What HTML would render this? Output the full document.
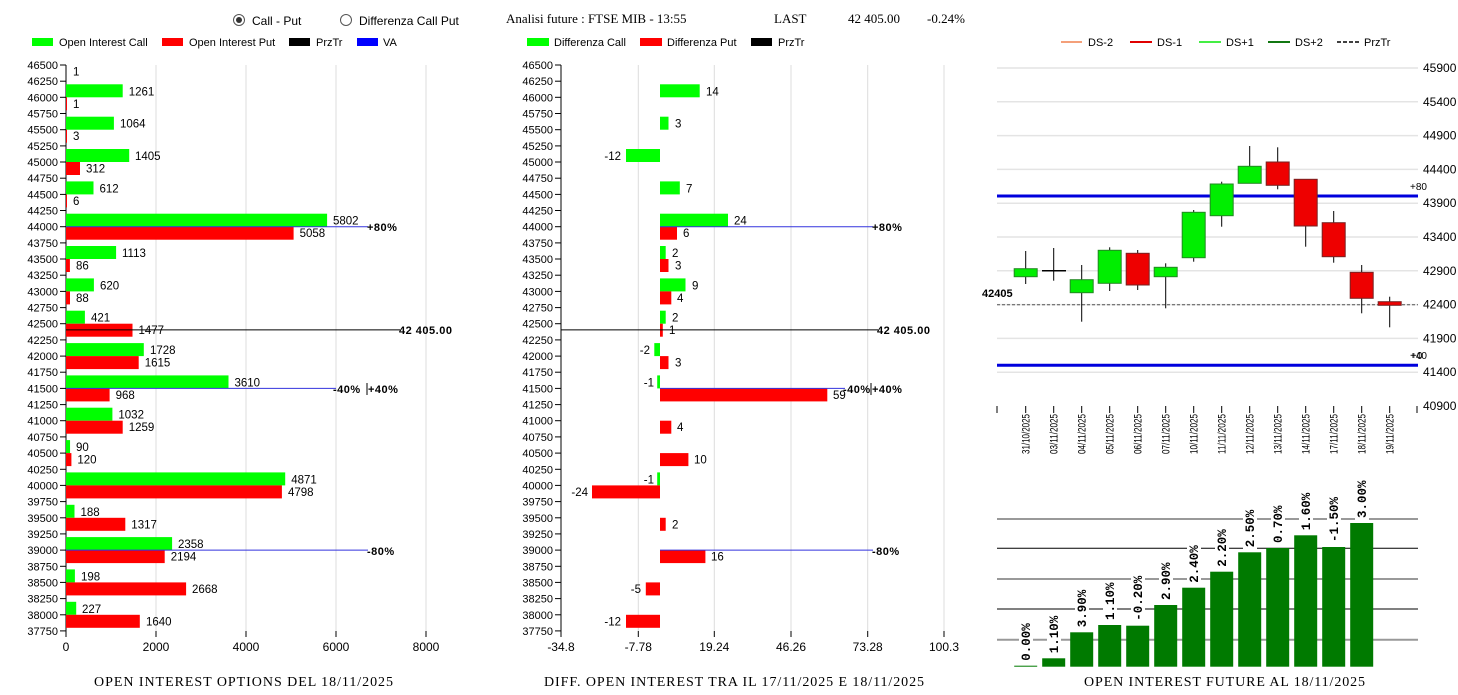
<!DOCTYPE html>
<html><head><meta charset="utf-8"><style>
html,body{margin:0;padding:0;background:#fff;}
svg{display:block;font-family:"Liberation Sans",Arial,sans-serif;}
.t{font-size:12px;fill:#000}
.y{font-size:11px;fill:#000}
.v{font-size:11.5px;fill:#000}
.s{font-size:11px;fill:#000}
.b{font-size:11px;font-weight:bold;fill:#000;letter-spacing:0.5px}
.ser{font-family:"Liberation Serif",serif;font-size:13px;fill:#000}
.ttl{font-family:"Liberation Serif",serif;font-size:14px;fill:#000}
.g{fill:#00ff00}.r{fill:#ff0000}
.gl{stroke:#dcdcdc;stroke-width:1}
.tk{stroke:#000;stroke-width:1}
.pl{font-family:"Liberation Mono",monospace;font-weight:bold;font-size:12.5px;fill:#000}
</style></head><body>
<svg width="1458" height="695" viewBox="0 0 1458 695" xmlns="http://www.w3.org/2000/svg">
<!-- header -->
<circle cx="239" cy="20" r="5.5" fill="#fff" stroke="#555"/><circle cx="239" cy="20" r="3" fill="#333"/>
<text x="252" y="25" class="t">Call - Put</text>
<circle cx="346" cy="20" r="5.5" fill="#fff" stroke="#555"/>
<text x="359" y="25" class="t">Differenza Call Put</text>
<text x="506" y="23" class="ser">Analisi future : FTSE MIB - 13:55</text>
<text x="774" y="23" class="ser">LAST</text>
<text x="848" y="23" class="ser">42 405.00</text>
<text x="927" y="23" class="ser">-0.24%</text>
<!-- legends -->
<rect x="32" y="38" width="21" height="8" class="g"/><text x="59" y="46" class="s">Open Interest Call</text>
<rect x="162" y="38" width="21" height="8" class="r"/><text x="189" y="46" class="s">Open Interest Put</text>
<rect x="289" y="38" width="21" height="8" fill="#000"/><text x="316" y="46" class="s">PrzTr</text>
<rect x="357" y="38" width="21" height="8" fill="#0000ff"/><text x="383" y="46" class="s">VA</text>
<rect x="527" y="38" width="22" height="8" class="g"/><text x="554" y="46" class="s">Differenza Call</text>
<rect x="640" y="38" width="22" height="8" class="r"/><text x="667" y="46" class="s">Differenza Put</text>
<rect x="751" y="38" width="21" height="8" fill="#000"/><text x="778" y="46" class="s">PrzTr</text>
<line x1="1061" y1="42" x2="1082" y2="42" stroke="#f4a07a" stroke-width="2"/><text x="1088" y="46" class="s">DS-2</text>
<line x1="1130" y1="42" x2="1152" y2="42" stroke="#e00000" stroke-width="2"/><text x="1157" y="46" class="s">DS-1</text>
<line x1="1199" y1="42" x2="1221" y2="42" stroke="#44ee44" stroke-width="2"/><text x="1226" y="46" class="s">DS+1</text>
<line x1="1268" y1="42" x2="1290" y2="42" stroke="#117711" stroke-width="2"/><text x="1295" y="46" class="s">DS+2</text>
<line x1="1337" y1="42" x2="1359" y2="42" stroke="#000" stroke-width="1.5" stroke-dasharray="4,2"/><text x="1364" y="46" class="s">PrzTr</text>

<!-- LEFT CHART -->
<g class="gl"><line x1="156" y1="65" x2="156" y2="631"/><line x1="246" y1="65" x2="246" y2="631"/><line x1="336" y1="65" x2="336" y2="631"/><line x1="426" y1="65" x2="426" y2="631"/></g>
<line x1="66" y1="65" x2="66" y2="631" class="tk"/>
<g class="tk">
<line x1="60" y1="65" x2="66" y2="65"/><line x1="60" y1="81.2" x2="66" y2="81.2"/><line x1="60" y1="97.3" x2="66" y2="97.3"/><line x1="60" y1="113.5" x2="66" y2="113.5"/><line x1="60" y1="129.7" x2="66" y2="129.7"/><line x1="60" y1="145.9" x2="66" y2="145.9"/><line x1="60" y1="162" x2="66" y2="162"/><line x1="60" y1="178.2" x2="66" y2="178.2"/><line x1="60" y1="194.4" x2="66" y2="194.4"/><line x1="60" y1="210.5" x2="66" y2="210.5"/><line x1="60" y1="226.7" x2="66" y2="226.7"/><line x1="60" y1="242.9" x2="66" y2="242.9"/><line x1="60" y1="259" x2="66" y2="259"/><line x1="60" y1="275.2" x2="66" y2="275.2"/><line x1="60" y1="291.4" x2="66" y2="291.4"/><line x1="60" y1="307.6" x2="66" y2="307.6"/><line x1="60" y1="323.7" x2="66" y2="323.7"/><line x1="60" y1="339.9" x2="66" y2="339.9"/><line x1="60" y1="356.1" x2="66" y2="356.1"/><line x1="60" y1="372.2" x2="66" y2="372.2"/><line x1="60" y1="388.4" x2="66" y2="388.4"/><line x1="60" y1="404.6" x2="66" y2="404.6"/><line x1="60" y1="420.7" x2="66" y2="420.7"/><line x1="60" y1="436.9" x2="66" y2="436.9"/><line x1="60" y1="453.1" x2="66" y2="453.1"/><line x1="60" y1="469.3" x2="66" y2="469.3"/><line x1="60" y1="485.4" x2="66" y2="485.4"/><line x1="60" y1="501.6" x2="66" y2="501.6"/><line x1="60" y1="517.8" x2="66" y2="517.8"/><line x1="60" y1="533.9" x2="66" y2="533.9"/><line x1="60" y1="550.1" x2="66" y2="550.1"/><line x1="60" y1="566.3" x2="66" y2="566.3"/><line x1="60" y1="582.4" x2="66" y2="582.4"/><line x1="60" y1="598.6" x2="66" y2="598.6"/><line x1="60" y1="614.8" x2="66" y2="614.8"/><line x1="60" y1="630.9" x2="66" y2="630.9"/>
<line x1="66" y1="631" x2="66" y2="637"/><line x1="156" y1="631" x2="156" y2="637"/><line x1="246" y1="631" x2="246" y2="637"/><line x1="336" y1="631" x2="336" y2="637"/><line x1="426" y1="631" x2="426" y2="637"/>
</g>
<g class="y" text-anchor="end">
<text x="58" y="69">46500</text><text x="58" y="85.2">46250</text><text x="58" y="101.3">46000</text><text x="58" y="117.5">45750</text><text x="58" y="133.7">45500</text><text x="58" y="149.9">45250</text><text x="58" y="166">45000</text><text x="58" y="182.2">44750</text><text x="58" y="198.4">44500</text><text x="58" y="214.5">44250</text><text x="58" y="230.7">44000</text><text x="58" y="246.9">43750</text><text x="58" y="263">43500</text><text x="58" y="279.2">43250</text><text x="58" y="295.4">43000</text><text x="58" y="311.6">42750</text><text x="58" y="327.7">42500</text><text x="58" y="343.9">42250</text><text x="58" y="360.1">42000</text><text x="58" y="376.2">41750</text><text x="58" y="392.4">41500</text><text x="58" y="408.6">41250</text><text x="58" y="424.7">41000</text><text x="58" y="440.9">40750</text><text x="58" y="457.1">40500</text><text x="58" y="473.3">40250</text><text x="58" y="489.4">40000</text><text x="58" y="505.6">39750</text><text x="58" y="521.8">39500</text><text x="58" y="537.9">39250</text><text x="58" y="554.1">39000</text><text x="58" y="570.3">38750</text><text x="58" y="586.4">38500</text><text x="58" y="602.6">38250</text><text x="58" y="618.8">38000</text><text x="58" y="634.9">37750</text>
</g>
<g class="t" text-anchor="middle"><text x="66" y="651">0</text><text x="156" y="651">2000</text><text x="246" y="651">4000</text><text x="336" y="651">6000</text><text x="426" y="651">8000</text></g>
<g class="g">
<rect x="66" y="84.3" width="56.7" height="13"/><rect x="66" y="116.7" width="47.9" height="13"/><rect x="66" y="149" width="63.2" height="13"/><rect x="66" y="181.4" width="27.5" height="13"/><rect x="66" y="213.7" width="261.1" height="13"/><rect x="66" y="246" width="50.1" height="13"/><rect x="66" y="278.4" width="27.9" height="13"/><rect x="66" y="310.7" width="18.9" height="13"/><rect x="66" y="343.1" width="77.8" height="13"/><rect x="66" y="375.4" width="162.5" height="13"/><rect x="66" y="407.7" width="46.4" height="13"/><rect x="66" y="440.1" width="4.05" height="13"/><rect x="66" y="472.4" width="219.2" height="13"/><rect x="66" y="504.8" width="8.5" height="13"/><rect x="66" y="537.1" width="106.1" height="13"/><rect x="66" y="569.4" width="8.9" height="13"/><rect x="66" y="601.8" width="10.2" height="13"/>
</g>
<g class="r">
<rect x="66" y="97.3" width="1" height="13"/><rect x="66" y="129.7" width="1" height="13"/><rect x="66" y="162" width="14" height="13"/><rect x="66" y="194.4" width="1" height="13"/><rect x="66" y="226.7" width="227.6" height="13"/><rect x="66" y="259" width="3.9" height="13"/><rect x="66" y="291.4" width="4" height="13"/><rect x="66" y="323.7" width="66.5" height="13"/><rect x="66" y="356.1" width="72.7" height="13"/><rect x="66" y="388.4" width="43.6" height="13"/><rect x="66" y="420.7" width="56.7" height="13"/><rect x="66" y="453.1" width="5.4" height="13"/><rect x="66" y="485.4" width="215.9" height="13"/><rect x="66" y="517.8" width="59.3" height="13"/><rect x="66" y="550.1" width="98.7" height="13"/><rect x="66" y="582.4" width="120.1" height="13"/><rect x="66" y="614.8" width="73.8" height="13"/>
</g>
<g class="v">
<text x="73" y="75.5">1</text>
<text x="128.7" y="95.3">1261</text><text x="73" y="107.8">1</text>
<text x="120" y="127.7">1064</text><text x="73" y="140.2">3</text>
<text x="135" y="160">1405</text><text x="86" y="172.5">312</text>
<text x="99.5" y="192.4">612</text><text x="73" y="204.9">6</text>
<text x="333" y="224.7">5802</text><text x="299.6" y="237.2">5058</text>
<text x="122" y="257">1113</text><text x="76" y="269.5">86</text>
<text x="100" y="289.4">620</text><text x="76" y="301.9">88</text>
<text x="91" y="321.7">421</text><text x="138.5" y="334.2">1477</text>
<text x="150" y="354.1">1728</text><text x="144.7" y="366.6">1615</text>
<text x="234.5" y="386.4">3610</text><text x="115.6" y="398.9">968</text>
<text x="118.4" y="418.7">1032</text><text x="128.7" y="431.2">1259</text>
<text x="76" y="451.1">90</text><text x="77.4" y="463.6">120</text>
<text x="291.2" y="483.4">4871</text><text x="288" y="495.9">4798</text>
<text x="80.5" y="515.8">188</text><text x="131.3" y="528.3">1317</text>
<text x="178" y="548.1">2358</text><text x="170.7" y="560.6">2194</text>
<text x="81" y="580.4">198</text><text x="192" y="592.9">2668</text>
<text x="82" y="612.8">227</text><text x="146" y="625.3">1640</text>
</g>
<line x1="66" y1="226.7" x2="368" y2="226.7" stroke="#3333dd"/><text x="367" y="231" class="b">+80%</text>
<line x1="66" y1="329.9" x2="400" y2="329.9" stroke="#000"/><text x="399" y="334" class="b">42 405.00</text>
<line x1="66" y1="388.4" x2="336" y2="388.4" stroke="#3333dd"/><text x="333" y="393" class="b">-40%</text><line x1="367" y1="383" x2="367" y2="395" stroke="#000"/><text x="368" y="393" class="b">+40%</text>
<line x1="66" y1="550.1" x2="368" y2="550.1" stroke="#3333dd"/><text x="367" y="555" class="b">-80%</text>
<text x="94" y="686" class="ttl" textLength="299" lengthAdjust="spacing">OPEN INTEREST OPTIONS DEL 18/11/2025</text>

<!-- MIDDLE CHART -->
<g class="gl"><line x1="638.3" y1="65" x2="638.3" y2="631"/><line x1="714.3" y1="65" x2="714.3" y2="631"/><line x1="791" y1="65" x2="791" y2="631"/><line x1="867.7" y1="65" x2="867.7" y2="631"/><line x1="944" y1="65" x2="944" y2="631"/></g>
<line x1="561" y1="65" x2="561" y2="631" class="tk"/>
<g class="tk">
<line x1="555" y1="65" x2="561" y2="65"/><line x1="555" y1="81.2" x2="561" y2="81.2"/><line x1="555" y1="97.3" x2="561" y2="97.3"/><line x1="555" y1="113.5" x2="561" y2="113.5"/><line x1="555" y1="129.7" x2="561" y2="129.7"/><line x1="555" y1="145.9" x2="561" y2="145.9"/><line x1="555" y1="162" x2="561" y2="162"/><line x1="555" y1="178.2" x2="561" y2="178.2"/><line x1="555" y1="194.4" x2="561" y2="194.4"/><line x1="555" y1="210.5" x2="561" y2="210.5"/><line x1="555" y1="226.7" x2="561" y2="226.7"/><line x1="555" y1="242.9" x2="561" y2="242.9"/><line x1="555" y1="259" x2="561" y2="259"/><line x1="555" y1="275.2" x2="561" y2="275.2"/><line x1="555" y1="291.4" x2="561" y2="291.4"/><line x1="555" y1="307.6" x2="561" y2="307.6"/><line x1="555" y1="323.7" x2="561" y2="323.7"/><line x1="555" y1="339.9" x2="561" y2="339.9"/><line x1="555" y1="356.1" x2="561" y2="356.1"/><line x1="555" y1="372.2" x2="561" y2="372.2"/><line x1="555" y1="388.4" x2="561" y2="388.4"/><line x1="555" y1="404.6" x2="561" y2="404.6"/><line x1="555" y1="420.7" x2="561" y2="420.7"/><line x1="555" y1="436.9" x2="561" y2="436.9"/><line x1="555" y1="453.1" x2="561" y2="453.1"/><line x1="555" y1="469.3" x2="561" y2="469.3"/><line x1="555" y1="485.4" x2="561" y2="485.4"/><line x1="555" y1="501.6" x2="561" y2="501.6"/><line x1="555" y1="517.8" x2="561" y2="517.8"/><line x1="555" y1="533.9" x2="561" y2="533.9"/><line x1="555" y1="550.1" x2="561" y2="550.1"/><line x1="555" y1="566.3" x2="561" y2="566.3"/><line x1="555" y1="582.4" x2="561" y2="582.4"/><line x1="555" y1="598.6" x2="561" y2="598.6"/><line x1="555" y1="614.8" x2="561" y2="614.8"/><line x1="555" y1="630.9" x2="561" y2="630.9"/>
<line x1="561" y1="631" x2="561" y2="637"/><line x1="638.3" y1="631" x2="638.3" y2="637"/><line x1="714.3" y1="631" x2="714.3" y2="637"/><line x1="791" y1="631" x2="791" y2="637"/><line x1="867.7" y1="631" x2="867.7" y2="637"/><line x1="944" y1="631" x2="944" y2="637"/>
</g>
<g class="y" text-anchor="end">
<text x="553" y="69">46500</text><text x="553" y="85.2">46250</text><text x="553" y="101.3">46000</text><text x="553" y="117.5">45750</text><text x="553" y="133.7">45500</text><text x="553" y="149.9">45250</text><text x="553" y="166">45000</text><text x="553" y="182.2">44750</text><text x="553" y="198.4">44500</text><text x="553" y="214.5">44250</text><text x="553" y="230.7">44000</text><text x="553" y="246.9">43750</text><text x="553" y="263">43500</text><text x="553" y="279.2">43250</text><text x="553" y="295.4">43000</text><text x="553" y="311.6">42750</text><text x="553" y="327.7">42500</text><text x="553" y="343.9">42250</text><text x="553" y="360.1">42000</text><text x="553" y="376.2">41750</text><text x="553" y="392.4">41500</text><text x="553" y="408.6">41250</text><text x="553" y="424.7">41000</text><text x="553" y="440.9">40750</text><text x="553" y="457.1">40500</text><text x="553" y="473.3">40250</text><text x="553" y="489.4">40000</text><text x="553" y="505.6">39750</text><text x="553" y="521.8">39500</text><text x="553" y="537.9">39250</text><text x="553" y="554.1">39000</text><text x="553" y="570.3">38750</text><text x="553" y="586.4">38500</text><text x="553" y="602.6">38250</text><text x="553" y="618.8">38000</text><text x="553" y="634.9">37750</text>
</g>
<g class="t" text-anchor="middle"><text x="561" y="651">-34.8</text><text x="638.3" y="651">-7.78</text><text x="714.3" y="651">19.24</text><text x="791" y="651">46.26</text><text x="867.7" y="651">73.28</text><text x="944" y="651">100.3</text></g>
<g class="g">
<rect x="660" y="84.3" width="39.7" height="13"/><rect x="660" y="116.7" width="8.5" height="13"/><rect x="626" y="149" width="34" height="13"/><rect x="660" y="181.4" width="19.8" height="13"/><rect x="660" y="213.7" width="68" height="13"/><rect x="660" y="246" width="5.7" height="13"/><rect x="660" y="278.4" width="25.5" height="13"/><rect x="660" y="310.7" width="5.7" height="13"/><rect x="654.3" y="343.1" width="5.7" height="13"/><rect x="657.2" y="375.4" width="2.8" height="13"/><rect x="657.2" y="472.4" width="2.8" height="13"/>
</g>
<g class="r">
<rect x="660" y="226.7" width="17" height="13"/><rect x="660" y="259" width="8.5" height="13"/><rect x="660" y="291.4" width="11.3" height="13"/><rect x="660" y="323.7" width="2.8" height="13"/><rect x="660" y="356.1" width="8.5" height="13"/><rect x="660" y="388.4" width="167.3" height="13"/><rect x="660" y="420.7" width="11.3" height="13"/><rect x="660" y="453.1" width="28.4" height="13"/><rect x="592" y="485.4" width="68" height="13"/><rect x="660" y="517.8" width="5.7" height="13"/><rect x="660" y="550.1" width="45.4" height="13"/><rect x="645.8" y="582.4" width="14.2" height="13"/><rect x="626" y="614.8" width="34" height="13"/>
</g>
<g class="v">
<text x="706" y="95.3">14</text><text x="675" y="127.7">3</text><text x="686" y="192.4">7</text>
<text x="734" y="224.7">24</text><text x="683" y="237.2">6</text>
<text x="672" y="257">2</text><text x="675" y="269.5">3</text>
<text x="692" y="289.4">9</text><text x="677" y="301.9">4</text>
<text x="672" y="321.7">2</text><text x="669" y="334.2">1</text>
<text x="675" y="366.6">3</text><text x="833" y="398.9">59</text>
<text x="677" y="431.2">4</text><text x="694" y="463.6">10</text>
<text x="672" y="528.3">2</text><text x="711" y="560.6">16</text>
</g>
<g class="v" text-anchor="end">
<text x="621" y="160">-12</text><text x="650" y="354.1">-2</text><text x="654" y="386.4">-1</text><text x="654" y="483.4">-1</text><text x="588" y="495.9">-24</text><text x="641" y="592.9">-5</text><text x="621" y="625.3">-12</text>
</g>
<line x1="660" y1="226.7" x2="873" y2="226.7" stroke="#3333dd"/><text x="872" y="231" class="b">+80%</text>
<line x1="561" y1="329.9" x2="878" y2="329.9" stroke="#000"/><text x="877" y="334" class="b">42 405.00</text>
<line x1="660" y1="388.4" x2="845" y2="388.4" stroke="#3333dd"/><text x="843" y="393" class="b">-40%</text><line x1="871" y1="383" x2="871" y2="395" stroke="#000"/><text x="872" y="393" class="b">+40%</text>
<line x1="660" y1="550.1" x2="873" y2="550.1" stroke="#3333dd"/><text x="872" y="555" class="b">-80%</text>
<text x="544" y="686" class="ttl" textLength="380" lengthAdjust="spacing">DIFF. OPEN INTEREST TRA IL 17/11/2025 E 18/11/2025</text>

<!-- RIGHT CANDLE CHART -->
<g stroke="#e4e4e4" stroke-width="1.5">
<line x1="997" y1="68" x2="1418" y2="68"/><line x1="997" y1="101.8" x2="1418" y2="101.8"/><line x1="997" y1="135.6" x2="1418" y2="135.6"/><line x1="997" y1="169.4" x2="1418" y2="169.4"/><line x1="997" y1="203.2" x2="1418" y2="203.2"/><line x1="997" y1="237" x2="1418" y2="237"/><line x1="997" y1="270.8" x2="1418" y2="270.8"/><line x1="997" y1="304.6" x2="1418" y2="304.6"/><line x1="997" y1="338.4" x2="1418" y2="338.4"/><line x1="997" y1="372.2" x2="1418" y2="372.2"/>
</g>
<g class="t">
<text x="1423" y="72">45900</text><text x="1423" y="105.8">45400</text><text x="1423" y="139.6">44900</text><text x="1423" y="173.4">44400</text><text x="1423" y="207.2">43900</text><text x="1423" y="241">43400</text><text x="1423" y="274.8">42900</text><text x="1423" y="308.6">42400</text><text x="1423" y="342.4">41900</text><text x="1423" y="376.2">41400</text><text x="1423" y="410">40900</text>
</g>
<line x1="997" y1="304.7" x2="1418" y2="304.7" stroke="#555" stroke-dasharray="3,2"/>
<line x1="997" y1="196" x2="1418" y2="196" stroke="#0000dd" stroke-width="3"/>
<line x1="997" y1="365.3" x2="1418" y2="365.3" stroke="#0000dd" stroke-width="3"/>
<text x="1410" y="190" style="font-size:10px">+80</text>
<text x="1410" y="359" style="font-size:10px">+40</text><text x="1411" y="359" style="font-size:10px">+0</text>
<text x="982" y="297" class="s" style="font-weight:bold">42405</text>
<g stroke="#000" stroke-width="1">
<line x1="1025.7" y1="251" x2="1025.7" y2="284"/><line x1="1053.7" y1="248" x2="1053.7" y2="280.7"/><line x1="1081.7" y1="265" x2="1081.7" y2="321.7"/><line x1="1109.7" y1="247.3" x2="1109.7" y2="291"/><line x1="1137.7" y1="250" x2="1137.7" y2="290"/><line x1="1165.7" y1="263.3" x2="1165.7" y2="308.3"/><line x1="1193.7" y1="210" x2="1193.7" y2="261.7"/><line x1="1221.7" y1="181.7" x2="1221.7" y2="226.7"/><line x1="1249.7" y1="146" x2="1249.7" y2="183.3"/><line x1="1277.7" y1="147.3" x2="1277.7" y2="189.3"/><line x1="1305.7" y1="179.3" x2="1305.7" y2="246.7"/><line x1="1333.7" y1="211" x2="1333.7" y2="262.7"/><line x1="1361.7" y1="265" x2="1361.7" y2="313.3"/><line x1="1389.7" y1="296.7" x2="1389.7" y2="327.3"/>
</g>
<g fill="#00ee00" stroke="#228822">
<rect x="1014.2" y="268.7" width="23" height="8"/><rect x="1070.2" y="279.7" width="23" height="13"/><rect x="1098.2" y="250.3" width="23" height="33"/><rect x="1154.2" y="267.3" width="23" height="9.4"/><rect x="1182.2" y="212.3" width="23" height="45.4"/><rect x="1210.2" y="184" width="23" height="31.7"/><rect x="1238.2" y="166.3" width="23" height="17"/>
</g>
<line x1="1042" y1="270.7" x2="1066" y2="270.7" stroke="#000" stroke-width="1.5"/>
<g fill="#ee0000" stroke="#772222">
<rect x="1126.2" y="253.3" width="23" height="31.7"/><rect x="1266.2" y="162" width="23" height="23.3"/><rect x="1294.2" y="179.3" width="23" height="46.7"/><rect x="1322.2" y="222.7" width="23" height="34"/><rect x="1350.2" y="272.3" width="23" height="26"/><rect x="1378.2" y="301.7" width="23" height="3.6"/>
</g>
<g class="tk">
<line x1="997" y1="406" x2="997" y2="413"/><line x1="1417" y1="406" x2="1417" y2="413"/>
<line x1="1025.7" y1="406" x2="1025.7" y2="413"/><line x1="1053.7" y1="406" x2="1053.7" y2="413"/><line x1="1081.7" y1="406" x2="1081.7" y2="413"/><line x1="1109.7" y1="406" x2="1109.7" y2="413"/><line x1="1137.7" y1="406" x2="1137.7" y2="413"/><line x1="1165.7" y1="406" x2="1165.7" y2="413"/><line x1="1193.7" y1="406" x2="1193.7" y2="413"/><line x1="1221.7" y1="406" x2="1221.7" y2="413"/><line x1="1249.7" y1="406" x2="1249.7" y2="413"/><line x1="1277.7" y1="406" x2="1277.7" y2="413"/><line x1="1305.7" y1="406" x2="1305.7" y2="413"/><line x1="1333.7" y1="406" x2="1333.7" y2="413"/><line x1="1361.7" y1="406" x2="1361.7" y2="413"/><line x1="1389.7" y1="406" x2="1389.7" y2="413"/>
</g>
<g style="font-size:11px" fill="#000">
<text transform="translate(1029.7,454) rotate(-90)" textLength="40" lengthAdjust="spacingAndGlyphs">31/10/2025</text>
<text transform="translate(1057.7,454) rotate(-90)" textLength="40" lengthAdjust="spacingAndGlyphs">03/11/2025</text>
<text transform="translate(1085.7,454) rotate(-90)" textLength="40" lengthAdjust="spacingAndGlyphs">04/11/2025</text>
<text transform="translate(1113.7,454) rotate(-90)" textLength="40" lengthAdjust="spacingAndGlyphs">05/11/2025</text>
<text transform="translate(1141.7,454) rotate(-90)" textLength="40" lengthAdjust="spacingAndGlyphs">06/11/2025</text>
<text transform="translate(1169.7,454) rotate(-90)" textLength="40" lengthAdjust="spacingAndGlyphs">07/11/2025</text>
<text transform="translate(1197.7,454) rotate(-90)" textLength="40" lengthAdjust="spacingAndGlyphs">10/11/2025</text>
<text transform="translate(1225.7,454) rotate(-90)" textLength="40" lengthAdjust="spacingAndGlyphs">11/11/2025</text>
<text transform="translate(1253.7,454) rotate(-90)" textLength="40" lengthAdjust="spacingAndGlyphs">12/11/2025</text>
<text transform="translate(1281.7,454) rotate(-90)" textLength="40" lengthAdjust="spacingAndGlyphs">13/11/2025</text>
<text transform="translate(1309.7,454) rotate(-90)" textLength="40" lengthAdjust="spacingAndGlyphs">14/11/2025</text>
<text transform="translate(1337.7,454) rotate(-90)" textLength="40" lengthAdjust="spacingAndGlyphs">17/11/2025</text>
<text transform="translate(1365.7,454) rotate(-90)" textLength="40" lengthAdjust="spacingAndGlyphs">18/11/2025</text>
<text transform="translate(1393.7,454) rotate(-90)" textLength="40" lengthAdjust="spacingAndGlyphs">19/11/2025</text>
</g>

<!-- BOTTOM BAR CHART -->
<line x1="997" y1="519" x2="1418" y2="519" stroke="#999" stroke-width="2"/>
<line x1="997" y1="548.3" x2="1418" y2="548.3" stroke="#000" stroke-width="1"/>
<line x1="997" y1="579" x2="1418" y2="579" stroke="#999" stroke-width="2"/>
<line x1="997" y1="609" x2="1418" y2="609" stroke="#000" stroke-width="1"/>
<line x1="997" y1="639.7" x2="1418" y2="639.7" stroke="#999" stroke-width="2"/>
<g fill="#007a00">
<rect x="1014.2" y="665.7" width="23" height="1"/><rect x="1042.2" y="658.3" width="23" height="8.4"/><rect x="1070.2" y="632.3" width="23" height="34.4"/><rect x="1098.2" y="625" width="23" height="41.7"/><rect x="1126.2" y="625.7" width="23" height="41"/><rect x="1154.2" y="605" width="23" height="61.7"/><rect x="1182.2" y="587.7" width="23" height="79"/><rect x="1210.2" y="571.7" width="23" height="95"/><rect x="1238.2" y="552.3" width="23" height="114.4"/><rect x="1266.2" y="548" width="23" height="118.7"/><rect x="1294.2" y="535.3" width="23" height="131.4"/><rect x="1322.2" y="547" width="23" height="119.7"/><rect x="1350.2" y="523" width="23" height="143.7"/>
</g>
<g fill="#fff">
<rect x="1019" y="620" width="14" height="42"/><rect x="1047" y="613" width="14" height="42"/><rect x="1075" y="587" width="14" height="42"/><rect x="1103" y="580" width="14" height="42"/><rect x="1131" y="573" width="14" height="50"/><rect x="1159" y="560" width="14" height="42"/><rect x="1187" y="543" width="14" height="42"/><rect x="1215" y="527" width="14" height="42"/><rect x="1243" y="507" width="14" height="42"/><rect x="1271" y="503" width="14" height="42"/><rect x="1299" y="490" width="14" height="42"/><rect x="1327" y="495" width="14" height="50"/><rect x="1355" y="478" width="14" height="42"/>
</g>
<g class="pl">
<text transform="translate(1030.2,660.7) rotate(-90)">0.00%</text>
<text transform="translate(1058.2,653.3) rotate(-90)">1.10%</text>
<text transform="translate(1086.2,627.3) rotate(-90)">3.90%</text>
<text transform="translate(1114.2,620) rotate(-90)">1.10%</text>
<text transform="translate(1142.2,620.7) rotate(-90)">-0.20%</text>
<text transform="translate(1170.2,600) rotate(-90)">2.90%</text>
<text transform="translate(1198.2,582.7) rotate(-90)">2.40%</text>
<text transform="translate(1226.2,566.7) rotate(-90)">2.20%</text>
<text transform="translate(1254.2,547.3) rotate(-90)">2.50%</text>
<text transform="translate(1282.2,543) rotate(-90)">0.70%</text>
<text transform="translate(1310.2,530.3) rotate(-90)">1.60%</text>
<text transform="translate(1338.2,542) rotate(-90)">-1.50%</text>
<text transform="translate(1366.2,518) rotate(-90)">3.00%</text>
</g>
<text x="1084" y="686" class="ttl" textLength="281" lengthAdjust="spacing">OPEN INTEREST FUTURE AL 18/11/2025</text>
</svg>
</body></html>
